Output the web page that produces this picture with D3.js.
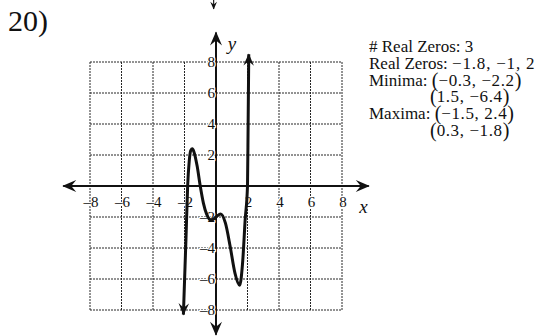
<!DOCTYPE html>
<html>
<head>
<meta charset="utf-8">
<script src="https://cdn.jsdelivr.net/npm/d3@7"></script>
<style>
  html, body { margin: 0; padding: 0; background: #fff; }
  svg { display: block; }
  text { font-family: "Liberation Serif", "Times New Roman", serif; fill: #111; }
</style>
</head>
<body>
<svg id="chart" width="547" height="336"></svg>
<script>
// Problem number and the facts listed beside the graph
const problemLabel = "20)";
const infoLines = [
  { head: "# Real Zeros: 3", math: "", pts: [] },
  { head: "Real Zeros: ", math: "−1.8, −1, 2", pts: [] },
  { head: "Minima: ", math: "", pts: ["−0.3, −2.2"] },
  { head: "", math: "", pts: ["1.5, −6.4"] },
  { head: "Maxima: ", math: "", pts: ["−1.5, 2.4"] },
  { head: "", math: "", pts: ["0.3, −1.8"] }
];

// Grid / tick values
const gridValues = [-8, -6, -4, -2, 0, 2, 4, 6, 8];
const tickLabels = [-8, -6, -4, -2, 2, 4, 6, 8];

// Sketched polynomial: x positions and y values along the curve
const curveX = [-2.07, -2.0, -1.9, -1.8, -1.7, -1.6, -1.5, -1.4, -1.2, -1.0, -0.8, -0.6, -0.3, 0.0, 0.3, 0.6, 0.9, 1.2, 1.5, 1.7, 1.85, 2.0, 2.04, 2.08];
const curveY = [-8.3, -6.2, -3.2, 0.0, 1.6, 2.3, 2.4, 2.2, 1.3, 0.0, -1.1, -1.8, -2.2, -2.0, -1.8, -2.4, -3.9, -5.6, -6.4, -4.8, -2.2, 0.0, 4.0, 8.5];

const svg = d3.select("#chart");

const x = d3.scaleLinear().domain([-8, 8]).range([90, 342]);
const y = d3.scaleLinear().domain([-8, 8]).range([310, 62]);

// Arrowhead used by the axes and the curve ends
const defs = svg.append("defs");
function arrowMarker(id, size) {
  defs.append("marker")
    .attr("id", id)
    .attr("viewBox", "-14 -7 16 14")
    .attr("refX", 0).attr("refY", 0)
    .attr("markerWidth", size).attr("markerHeight", size * 14 / 16)
    .attr("markerUnits", "userSpaceOnUse")
    .attr("orient", "auto-start-reverse")
    .append("path")
    .attr("d", "M1,0 L-13,-6 L-8,0 L-13,6 Z")
    .attr("fill", "#111");
}
arrowMarker("axisArrow", 16);
arrowMarker("curveArrow", 14);
arrowMarker("smallArrow", 9);

svg.append("text")
  .attr("x", 8).attr("y", 31)
  .attr("font-size", 30)
  .text(problemLabel);

// Stray stroke at the top edge of the page
svg.append("line")
  .attr("x1", x(-0.15)).attr("x2", x(-0.15))
  .attr("y1", 0).attr("y2", 9)
  .attr("stroke", "#222").attr("stroke-width", 1.2)
  .attr("marker-end", "url(#smallArrow)");

// Dotted grid
const grid = svg.append("g")
  .attr("stroke", "#262626")
  .attr("stroke-width", 1)
  .attr("stroke-dasharray", "2,1");
grid.selectAll(".gv").data(gridValues).join("line")
  .attr("x1", d => x(d)).attr("x2", d => x(d))
  .attr("y1", y(8)).attr("y2", y(-8));
grid.selectAll(".gh").data(gridValues).join("line")
  .attr("y1", d => y(d)).attr("y2", d => y(d))
  .attr("x1", x(-8)).attr("x2", x(8));

// Axes with arrows at both ends
svg.append("line")
  .attr("x1", x(-9.7)).attr("x2", x(9.7))
  .attr("y1", y(0)).attr("y2", y(0))
  .attr("stroke", "#111").attr("stroke-width", 2)
  .attr("marker-start", "url(#axisArrow)")
  .attr("marker-end", "url(#axisArrow)");
svg.append("line")
  .attr("x1", x(0)).attr("x2", x(0))
  .attr("y1", y(-9.6)).attr("y2", y(9.9))
  .attr("stroke", "#111").attr("stroke-width", 2)
  .attr("marker-start", "url(#axisArrow)")
  .attr("marker-end", "url(#axisArrow)");

// Tick labels
const labelStyle = sel => sel
  .attr("font-size", 15)
  .attr("stroke", "#fff").attr("stroke-width", 2.5)
  .attr("paint-order", "stroke")
  .attr("stroke-linejoin", "round");
const fmt = v => (v < 0 ? "–" + Math.abs(v) : String(v));

svg.append("g").selectAll("text").data(tickLabels).join("text")
  .attr("x", d => x(d) + 1).attr("y", y(0) + 21)
  .attr("text-anchor", "middle")
  .call(labelStyle)
  .text(fmt);

svg.append("g").selectAll("text").data(tickLabels).join("text")
  .attr("x", x(0) - 1).attr("y", d => y(d) + 5)
  .attr("text-anchor", "end")
  .call(labelStyle)
  .text(fmt);

// Axis names
svg.append("text")
  .attr("x", x(9.1)).attr("y", y(0) + 27)
  .attr("font-size", 19).attr("font-style", "italic")
  .text("x");
svg.append("text")
  .attr("x", x(0.75)).attr("y", y(8.8))
  .attr("font-size", 19).attr("font-style", "italic")
  .text("y");

// The curve
const pts = curveX.map((v, i) => [v, curveY[i]]);
const line = d3.line()
  .x(d => x(d[0])).y(d => y(d[1]))
  .curve(d3.curveMonotoneX);
svg.append("path")
  .attr("d", line(pts))
  .attr("fill", "none")
  .attr("stroke", "#111")
  .attr("stroke-width", 3)
  .attr("stroke-linejoin", "round")
  .attr("marker-start", "url(#curveArrow)")
  .attr("marker-end", "url(#curveArrow)");

// Facts beside the graph
const info = svg.append("g").attr("transform", "translate(369,0)");
const parenX = 61;
infoLines.forEach((ln, i) => {
  const t = info.append("text")
    .attr("x", ln.head ? 0 : parenX)
    .attr("y", 52 + i * 16.8)
    .attr("font-size", 17);
  if (ln.head) t.append("tspan").text(ln.head);
  if (ln.math) t.append("tspan").attr("letter-spacing", 0.8).text(ln.math);
  ln.pts.forEach(p => {
    t.append("tspan").attr("font-size", 20).attr("dy", 1).text("(");
    t.append("tspan").attr("dy", -1).attr("letter-spacing", 0.6).text(p);
    t.append("tspan").attr("font-size", 20).attr("dy", 1).text(")");
  });
});
</script>
</body>
</html>
